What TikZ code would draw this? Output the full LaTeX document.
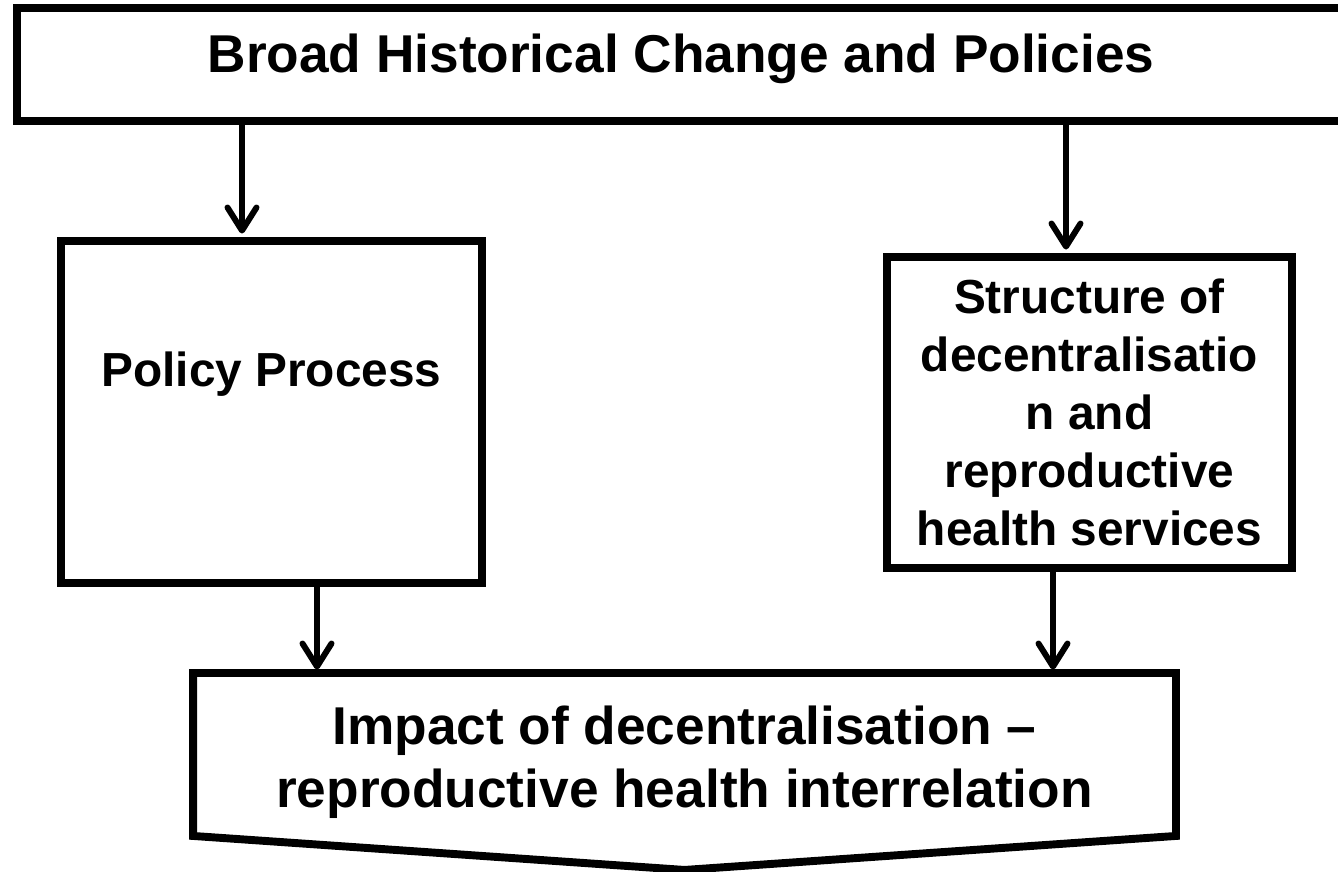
\documentclass[tikz,border=0pt]{standalone}
\usepackage{fontspec}
\setmainfont{Liberation Sans}
\usetikzlibrary{arrows.meta, positioning, calc}

\begin{document}
\begin{tikzpicture}[
box/.style={draw,
rectangle,
line width=4.5pt,
inner sep=0pt,
align=center,
font=\bfseries\fontsize{27.2}{33}\selectfont},
bigbox/.style={box,
font=\bfseries\fontsize{30.3}{36}\selectfont},
arrow/.style={-{Straight Barb[round, length=0.46cm, width=0.58cm]}, line width=3.4pt, shorten >=2pt}
]
\useasboundingbox (0,0) rectangle (26.76,17.44);

\node[bigbox, anchor=base, minimum width=26.56cm, text height=1.30cm, text depth=0.96cm] (history) at (13.62,15.98) {Broad Historical Change and Policies};
\node[box, anchor=base, minimum width=8.42cm, text height=2.92cm, text depth=3.92cm] (policy) at (5.43,9.70) {Policy Process};
\node[box, minimum width=8.10cm, minimum height=6.22cm] (structure) at (21.79,9.19) {Structure of\\decentralisatio\\n and\\reproductive\\health services};
\node[bigbox, draw=none, minimum width=19.5cm, minimum height=3.42cm, font=\bfseries\fontsize{30.3}{35.9}\selectfont] (impact) at (13.69,2.19) {Impact of decentralisation –\\reproductive health interrelation};

% outline of the bottom box, pointed at the base
\draw[line width=4.5pt] (impact.north west) -- (impact.north east) -- ([yshift=0.32cm]impact.south east) -- ([yshift=-0.36cm]impact.south) -- ([yshift=0.32cm]impact.south west) -- cycle;

\coordinate (policy-in) at ($(policy.north)+(-0.59,0)$);
\coordinate (structure-in) at ($(structure.north)+(-0.47,0)$);
\coordinate (policy-out) at ($(policy.south)+(0.91,0)$);
\coordinate (structure-out) at ($(structure.south)+(-0.73,0)$);

\draw[arrow] (policy-in |- history.south) -- (policy-in);
\draw[arrow] (structure-in |- history.south) -- (structure-in);
\draw[arrow] (policy-out) -- (policy-out |- impact.north);
\draw[arrow] (structure-out) -- (structure-out |- impact.north);

\end{tikzpicture}
\end{document}
